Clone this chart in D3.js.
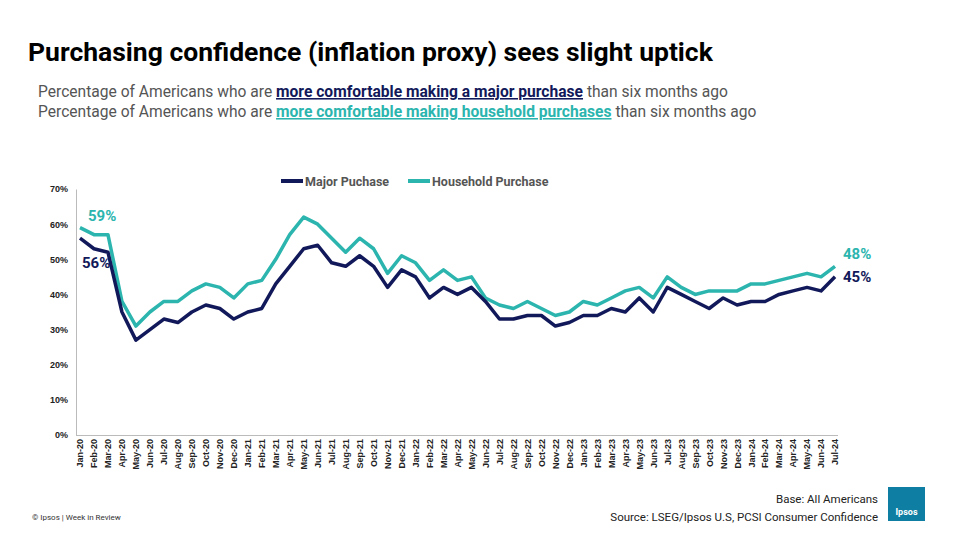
<!DOCTYPE html>
<html><head><meta charset="utf-8">
<script src="https://cdn.jsdelivr.net/npm/d3@7"></script>
<style>body{margin:0;background:#fff;font-family:Roboto,"Open Sans",sans-serif}</style>
</head><body><svg id="c" width="960" height="540"></svg>
<script>
const months = ["Jan","Feb","Mar","Apr","May","Jun","Jul","Aug","Sep","Oct","Nov","Dec"];
const categories = [];
for (let y=20;y<=24;y++) for (const m of months){ categories.push(m+"-"+y); if (y===24 && m==="Jul") break; }
const majorPurchase = [56,53,52,35,27,30,33,32,35,37,36,33,35,36,43,48,53,54,49,48,51,48,42,47,45,39,42,40,42,38,33,33,34,34,31,32,34,34,36,35,39,35,42,40,38,36,39,37,38,38,40,41,42,41,45];
const householdPurchase = [59,57,57,38,31,35,38,38,41,43,42,39,43,44,50,57,62,60,56,52,56,53,46,51,49,44,47,44,45,39,37,36,38,36,34,35,38,37,39,41,42,39,45,42,40,41,41,41,43,43,44,45,46,45,48];
const yTicks = [0,10,20,30,40,50,60,70];
const NAVY="#12195a", TEAL="#2bb5ae";

const svg = d3.select("#c");
svg.append("text").attr("x",28).attr("y",61).attr("font-size",26.5).attr("font-weight",700).attr("fill","#000")
  .text("Purchasing confidence (inflation proxy) sees slight uptick");
const sub = (y, link, col, rest) => {
  const t = svg.append("text").attr("x",38).attr("y",y).attr("font-size",15.6).attr("fill","#555");
  t.append("tspan").text("Percentage of Americans who are ");
  t.append("tspan").attr("fill",col).attr("font-weight",700).attr("text-decoration","underline").text(link);
  t.append("tspan").text(rest);
};
sub(97,"more comfortable making a major purchase",NAVY," than six months ago");
sub(117,"more comfortable making household purchases",TEAL," than six months ago");

const x = d3.scalePoint().domain(categories).range([80,835]);
const y = d3.scaleLinear().domain([0,70]).range([435,189]);

const ya = svg.append("g").attr("transform","translate(76,0)")
  .call(d3.axisLeft(y).tickValues(yTicks).tickFormat(d=>d+"%").tickSize(0).tickPadding(8));
ya.select(".domain").attr("stroke","#bbb");
ya.selectAll("text").attr("font-size",9).attr("font-weight",700).attr("fill","#222");

const xa = svg.append("g").attr("transform","translate(0,435)")
  .call(d3.axisBottom(x).tickSize(0).tickPadding(4));
xa.select(".domain").attr("stroke","#bbb").attr("d","M76,0.5H838");
xa.selectAll("text").attr("font-size",9).attr("font-weight",700).attr("fill","#222")
  .attr("transform","rotate(-90)").attr("text-anchor","end").attr("dx","-4").attr("x",0).attr("y",0)
  .attr("dy","0.32em");

const line = d3.line().x((d,i)=>x(categories[i])).y(d=>y(d));
svg.append("path").datum(householdPurchase).attr("d",line).attr("fill","none").attr("stroke",TEAL).attr("stroke-width",3.5).attr("stroke-linejoin","round");
svg.append("path").datum(majorPurchase).attr("d",line).attr("fill","none").attr("stroke",NAVY).attr("stroke-width",3.5).attr("stroke-linejoin","round");

const lab=(t,xx,yy,c)=>svg.append("text").attr("x",xx).attr("y",yy).attr("font-size",15).attr("font-weight",700).attr("fill",c).text(t);
lab(householdPurchase[0]+"%",x(categories[0])+8,y(householdPurchase[0])-7,TEAL);
lab(majorPurchase[0]+"%",x(categories[0])+2,y(majorPurchase[0])+30,NAVY);
const L=categories.length-1;
lab(householdPurchase[L]+"%",x(categories[L])+8,y(householdPurchase[L])-7,TEAL);
lab(majorPurchase[L]+"%",x(categories[L])+8,y(majorPurchase[L])+5,NAVY);

const lg=[["Major Puchase",NAVY,281],["Household Purchase",TEAL,408]];
lg.forEach(([t,c,lx])=>{
  svg.append("line").attr("x1",lx).attr("x2",lx+22).attr("y1",181).attr("y2",181).attr("stroke",c).attr("stroke-width",4);
  svg.append("text").attr("x",lx+24).attr("y",185.5).attr("font-size",12.5).attr("font-weight",700).attr("fill","#555").text(t);
});

svg.append("text").attr("x",32).attr("y",520).attr("font-size",8).attr("fill","#333").text("© Ipsos | Week in Review");
svg.append("text").attr("x",878).attr("y",503).attr("font-size",11.5).attr("fill","#222").attr("text-anchor","end").text("Base: All Americans");
svg.append("text").attr("x",878).attr("y",521).attr("font-size",11.5).attr("fill","#222").attr("text-anchor","end").text("Source: LSEG/Ipsos U.S, PCSI Consumer Confidence");
svg.append("rect").attr("x",888).attr("y",487).attr("width",37).attr("height",34).attr("fill","#0e7fa3");
svg.append("text").attr("x",906.5).attr("y",515).attr("font-size",9).attr("fill","#fff").attr("text-anchor","middle").attr("font-weight",700).text("Ipsos");
</script></body></html>
